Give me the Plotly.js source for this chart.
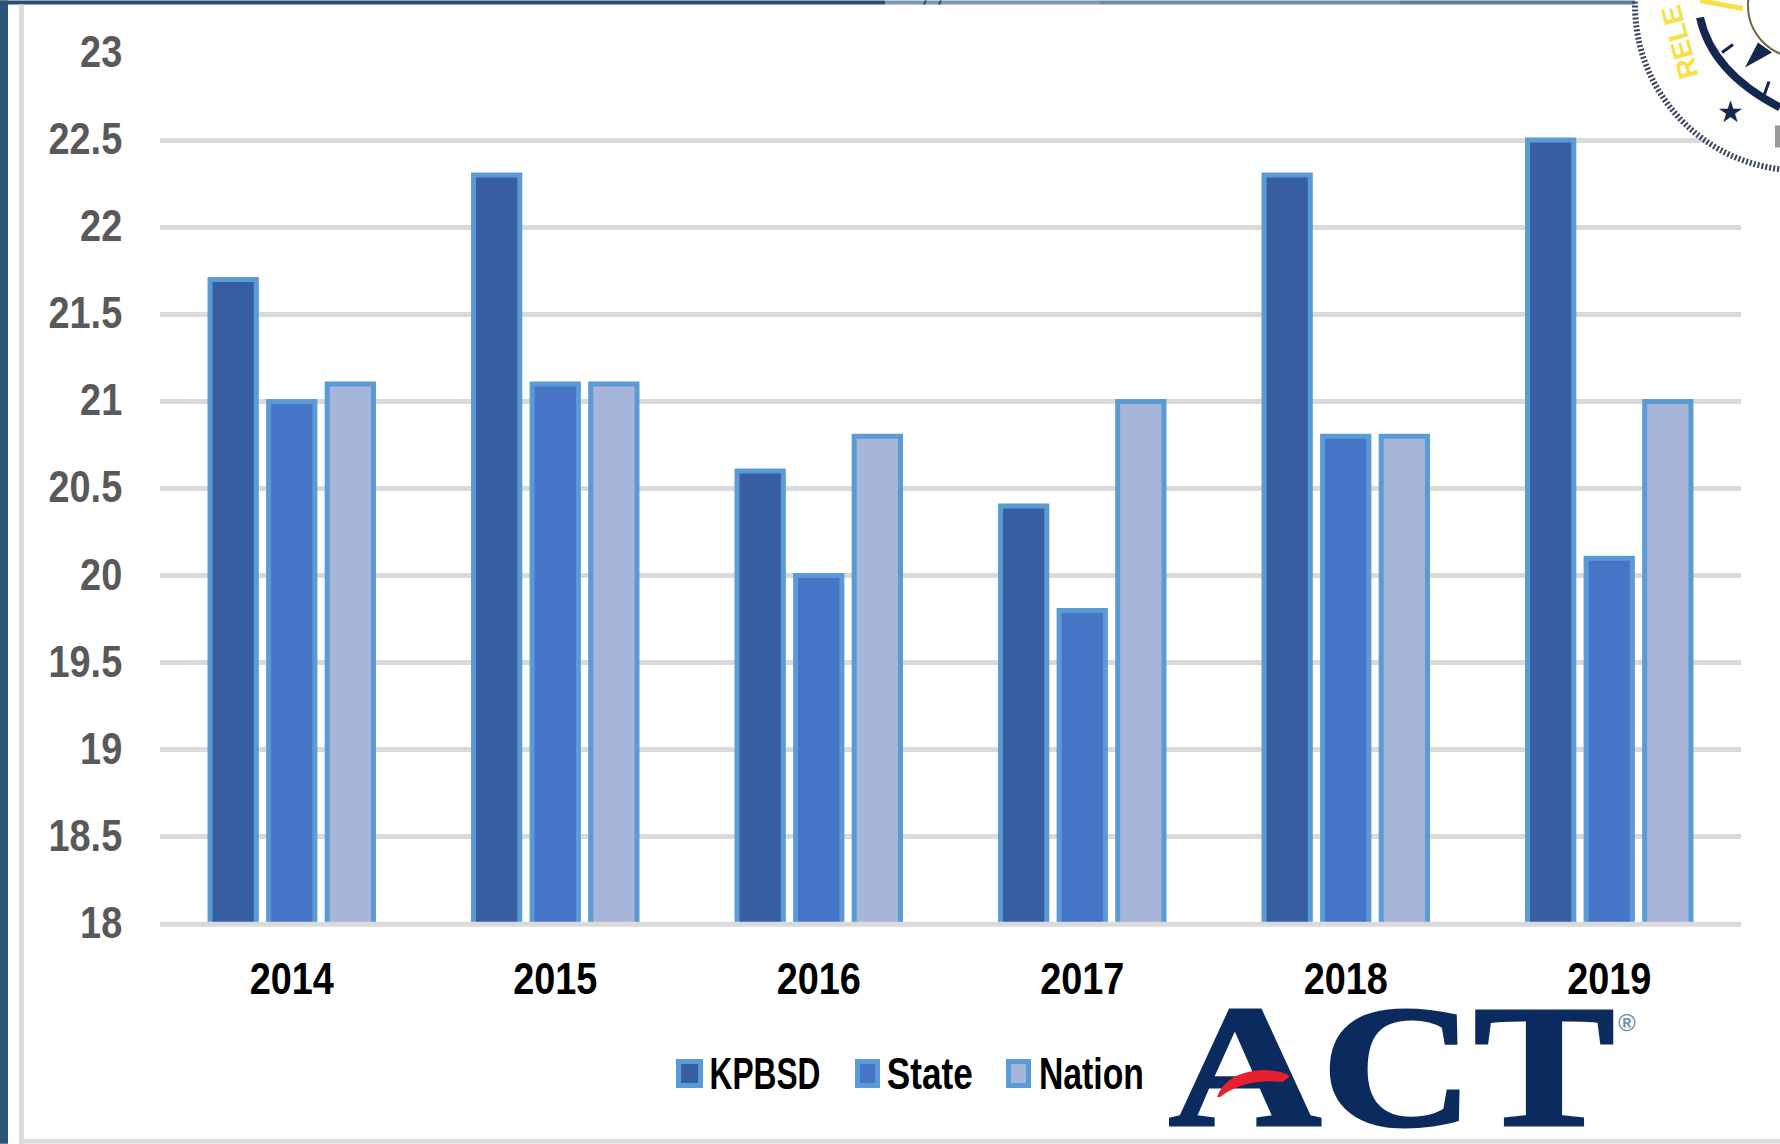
<!DOCTYPE html>
<html><head><meta charset="utf-8">
<script src="https://cdn.plot.ly/plotly-3.0.1.min.js"></script>
<style>html,body{margin:0;padding:0;background:#fff;overflow:hidden}</style>
</head><body><div id="chart" style="width:1780px;height:1144px"></div>
<script>
const years = ['2014','2015','2016','2017','2018','2019'];
const kpbsd = [21.7,22.3,20.6,20.4,22.3,22.5];
const state = [21.0,21.1,20.0,19.8,20.8,20.1];
const nation = [21.1,21.1,20.8,21.0,20.8,21.0];
const yTicks = [18,18.5,19,19.5,20,20.5,21,21.5,22,22.5,23];
const yTickText = ['18','18.5','19','19.5','20','20.5','21','21.5','22','22.5','23'];
const seriesNames = ['KPBSD','State','Nation'];
const seriesColors = ['#375ea1','#4674c6','#a8b5da'];
const edge = '#5b9bd5';
const W=1780,H=1144,L=160,R=1741,T=52.5,B=924;
const fx=p=>(p-L)/(R-L), fy=p=>(B-p)/(B-T);
const font='"Liberation Sans",sans-serif';
const traces=[kpbsd,state,nation].map((v,i)=>({type:'bar',name:seriesNames[i],x:years,y:v,
  marker:{color:seriesColors[i],line:{color:edge,width:5}},showlegend:false,hoverinfo:'x+y'}));
const rect=(x0,y0,x1,y1,fill,line,lw)=>({type:'rect',xref:'paper',yref:'paper',x0:fx(x0),x1:fx(x1),y0:fy(y0),y1:fy(y1),
  fillcolor:fill,line:{color:line||fill,width:lw||0},layer:'above'});
const pth=(d,fill,line,lw)=>({type:'path',xref:'paper',yref:'paper',layer:'above',path:d,fillcolor:fill||'rgba(0,0,0,0)',line:{color:line||'rgba(0,0,0,0)',width:lw||0}});
const seg=(x0,y0,x1,y1,c,lw)=>pth(`M ${fx(x0)} ${fy(y0)} L ${fx(x1)} ${fy(y1)}`,null,c,lw);
const shapes=[
  rect(160,921.7,1741,926.7,'#dadada'),
  rect(0,0,885,4,'#2c4f71'),
  rect(885,0,1100,4,'#7f98ad'),
  rect(1100,0,1400,4,'#6f8ba3'),
  rect(1400,0,1640,4,'#5f7f9c'),
  seg(924,4,926,0,'#2c4f71',2),
  seg(939,4,941,0,'#2c4f71',2),
  rect(0,0,8,H,'#2b5578'),
  rect(19,4,24,H,'#dcdcdc'),
  rect(19,1139,W,H,'#dcdcdc'),
];
// legend swatches
[[676,703],[855,880],[1006,1031]].forEach((p,i)=>shapes.push(rect(p[0]+2.5,1061.5,p[1]-2.5,1085.5,seriesColors[i],edge,5)));
// seal
const cx=1800,cy=5,r=165,ri=52;
shapes.push({type:'circle',xref:'paper',yref:'paper',x0:fx(cx-r),x1:fx(cx+r),y0:fy(cy+r),y1:fy(cy-r),fillcolor:'#fdfdfb',line:{color:'#3a4560',width:6,dash:'2px,2px'},layer:'above'});
shapes.push({type:'circle',xref:'paper',yref:'paper',x0:fx(cx-ri),x1:fx(cx+ri),y0:fy(cy+ri),y1:fy(cy-ri),fillcolor:'#fdfdfb',line:{color:'#6b6a45',width:2},layer:'above'});
shapes.push(seg(1700,0,1743,8,'#f3e24a',5));
shapes.push(pth(`M ${fx(1700)} ${fy(17)} Q ${fx(1712)} ${fy(72)} ${fx(1780)} ${fy(107)}`,null,'#14274e',8));
shapes.push(seg(1722,52,1733,44,'#14274e',3));
shapes.push(seg(1764,95,1769,81,'#14274e',3));
shapes.push(pth(`M ${fx(1758)} ${fy(42)} L ${fx(1772)} ${fy(52)} L ${fx(1745)} ${fy(67)} Z`,'#14274e'));
shapes.push(rect(1775,125,1780,147,'#9a9a9a'));
// ACT swoosh: last shape, lifted above the logo letters after drawing
shapes.push(pth(`M ${fx(1217)} ${fy(1097)} Q ${fx(1226)} ${fy(1072)} ${fx(1263)} ${fy(1070)} Q ${fx(1280)} ${fy(1070)} ${fx(1290)} ${fy(1076)} L ${fx(1283)} ${fy(1082)} Q ${fx(1245)} ${fy(1078)} ${fx(1220)} ${fy(1097)} Z`,'#e8202e'));
const ann=(text,xp,yp,size,color,fam,extra)=>Object.assign({xref:'paper',yref:'paper',x:fx(xp),y:fy(yp),text,showarrow:false,
  xanchor:'center',yanchor:'middle',font:{family:fam||font,size,color,weight:700}},extra||{});
const annotations=[
  ann('KPBSD',765,1074,44,'#000'),
  ann('State',930,1074,44,'#000'),
  ann('Nation',1091,1074,44,'#000'),
  ann('ACT',1391,1067,174,'#0b2a5e','"Liberation Serif",serif'),
  ann('®',1627,1023,24,'#6f8fb0'),
  ann('★',1730,111,30,'#14274e','"DejaVu Sans",sans-serif'),
  ann('RELE',1680,42,28,'#f3e24a',font,{textangle:-105}),
];
const stretch={KPBSD:111,State:86,Nation:105,ACT:446};
const layout={width:W,height:H,paper_bgcolor:'#fff',plot_bgcolor:'#fff',
  margin:{l:L,r:W-R,t:T,b:H-B,pad:0},barmode:'group',bargap:0.333,bargroupgap:0.21,showlegend:false,
  xaxis:{type:'category',tickmode:'array',tickvals:years,ticktext:years,showgrid:false,zeroline:false,showline:false,ticks:'outside',ticklen:16,tickcolor:'rgba(0,0,0,0)',
    tickfont:{family:font,size:44,color:'#000',weight:700}},
  yaxis:{range:[18,23],tickmode:'array',tickvals:yTicks,ticktext:yTickText,showgrid:true,gridcolor:'#dadada',gridwidth:5,zeroline:false,showline:false,
    ticks:'outside',ticklen:28,tickcolor:'rgba(0,0,0,0)',tickfont:{family:font,size:44,color:'#595959',weight:700}},
  shapes,annotations};
Plotly.newPlot('chart',traces,layout,{displayModeBar:false,staticPlot:true}).then(gd=>{
  document.querySelectorAll('.annotation-text').forEach(t=>{
    const w=stretch[t.textContent];
    if(w){t.setAttribute('textLength',w);t.setAttribute('lengthAdjust','spacingAndGlyphs');}
    if(t.textContent==='ACT'){t.style.stroke='#0b2a5e';t.style.strokeWidth='3px';}
  });
  document.querySelectorAll('.xtick text,.ytick text').forEach(t=>{
    t.setAttribute('textLength',(t.getComputedTextLength()*0.86).toFixed(1));
    t.setAttribute('lengthAdjust','spacingAndGlyphs');
  });
  document.querySelectorAll('.ytick text').forEach(t=>{
    t.setAttribute('y',parseFloat(t.getAttribute('y'))-1.5);
  });
  const paths=document.querySelectorAll('.layer-above .shapelayer path');
  const info=document.querySelector('.infolayer');
  if(paths.length&&info) info.appendChild(paths[paths.length-1]);
});
</script></body></html>
